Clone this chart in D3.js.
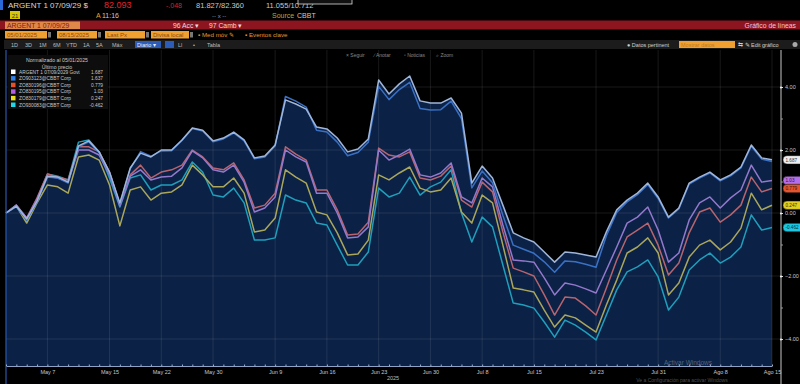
<!DOCTYPE html>
<html><head><meta charset="utf-8">
<script src="https://cdn.jsdelivr.net/npm/d3@7"></script>
<style>
html,body{margin:0;padding:0;background:#000;overflow:hidden;}
svg{display:block;font-family:"Liberation Sans",Arial,sans-serif;}
</style></head><body>
<svg id="c" width="800" height="384"></svg>
<script>
const dates = ["2025-05-01","2025-05-02","2025-05-05","2025-05-06","2025-05-07","2025-05-08","2025-05-09","2025-05-12","2025-05-13","2025-05-14",
"2025-05-15","2025-05-16","2025-05-19","2025-05-20","2025-05-21","2025-05-22","2025-05-23","2025-05-27","2025-05-28","2025-05-29",
"2025-05-30","2025-06-02","2025-06-03","2025-06-04","2025-06-05","2025-06-06","2025-06-09","2025-06-10","2025-06-11","2025-06-12",
"2025-06-13","2025-06-16","2025-06-17","2025-06-18","2025-06-19","2025-06-20","2025-06-23","2025-06-24","2025-06-25","2025-06-26",
"2025-06-27","2025-06-30","2025-07-01","2025-07-02","2025-07-03","2025-07-07","2025-07-08","2025-07-09","2025-07-10","2025-07-11",
"2025-07-14","2025-07-15","2025-07-16","2025-07-17","2025-07-18","2025-07-21","2025-07-22","2025-07-23","2025-07-24","2025-07-25",
"2025-07-28","2025-07-29","2025-07-30","2025-07-31","2025-08-01","2025-08-04","2025-08-05","2025-08-06","2025-08-07","2025-08-08",
"2025-08-11","2025-08-12","2025-08-13","2025-08-14","2025-08-15"];

const tickDates = ["2025-05-07","2025-05-15","2025-05-22","2025-05-30","2025-06-09","2025-06-16","2025-06-23","2025-06-30","2025-07-08","2025-07-15","2025-07-23","2025-07-31","2025-08-08","2025-08-15"];
const tickLabels = ["May 7","May 15","May 22","May 30","Jun 9","Jun 16","Jun 23","Jun 30","Jul 8","Jul 15","Jul 23","Jul 31","Ago 8","Ago 15"];
const yTicks = [-4,-2,0,2,4];
const yMinorTicks = [-3,-1,1,3];

const argentGovt = [0.00,0.22,-0.19,0.38,1.17,1.14,0.98,2.13,2.29,1.94,1.30,0.32,1.43,1.90,1.78,2.00,2.00,2.32,2.70,2.63,2.29,2.38,2.57,2.32,1.75,1.81,2.16,3.59,3.46,3.30,2.73,2.67,2.38,1.94,2.03,2.35,4.22,3.78,4.10,4.35,3.56,3.49,3.49,3.65,3.17,0.95,1.49,1.11,0.25,-0.63,-0.79,-0.92,-1.24,-1.56,-1.24,-1.27,-1.33,-1.40,-0.60,0.10,0.41,0.63,0.95,0.51,-0.13,0.16,0.95,1.14,1.30,1.05,1.21,1.46,2.16,1.75,1.687];
const corpBlue = [0.00,0.20,-0.22,0.35,1.14,1.11,0.95,2.10,2.26,1.91,1.27,0.29,1.40,1.95,1.80,1.97,1.98,2.30,2.68,2.60,2.26,2.35,2.54,2.29,1.72,1.78,2.13,3.70,3.55,3.36,2.63,2.57,2.25,1.82,1.92,2.25,4.02,3.60,3.92,4.15,3.32,3.27,3.28,3.55,3.00,0.80,1.33,0.96,-0.07,-1.02,-1.15,-1.28,-1.55,-1.88,-1.52,-1.55,-1.63,-1.72,-0.72,0.02,0.35,0.58,0.90,0.46,-0.16,0.13,0.92,1.11,1.27,1.02,1.18,1.43,2.12,1.71,1.637];
const corpRed = [0.00,0.25,-0.16,0.48,1.24,1.14,1.05,2.10,2.10,1.94,1.30,0.25,1.21,1.52,1.11,1.30,1.37,1.52,2.00,1.78,1.43,1.37,1.59,1.05,0.16,0.25,0.63,2.10,1.87,1.68,0.73,0.73,0.10,-0.70,-0.67,-0.29,2.06,1.84,1.78,1.94,1.11,1.05,1.17,1.49,0.41,0.19,0.98,0.67,-0.60,-1.75,-1.87,-2.00,-2.60,-3.24,-2.67,-2.70,-2.95,-3.24,-2.38,-1.49,-0.76,-0.54,-0.32,-1.02,-1.97,-1.59,-0.63,0.03,0.16,-0.29,-0.06,0.25,1.14,0.67,0.779];
const corpPurple = [0.00,0.25,-0.16,0.44,1.17,1.11,0.98,2.00,2.00,1.84,1.21,0.22,1.17,1.37,1.05,1.14,1.17,1.43,1.97,1.75,1.37,1.30,1.52,0.98,0.03,0.16,0.51,2.00,1.78,1.62,0.63,0.63,0.00,-0.79,-0.76,-0.44,2.00,1.68,1.84,2.03,1.21,1.14,1.27,1.59,0.51,0.32,1.11,0.83,-0.38,-1.49,-1.52,-1.56,-2.06,-2.60,-2.22,-2.29,-2.41,-2.54,-1.81,-1.08,-0.32,-0.13,0.19,-0.54,-1.56,-1.27,-0.22,0.32,0.51,0.16,0.48,0.73,1.52,0.98,1.03];
const corpYellow = [0.00,0.22,-0.32,0.32,0.89,0.83,0.63,1.78,1.84,1.68,0.89,-0.41,0.73,0.83,0.41,0.63,0.67,0.89,1.52,1.21,0.83,0.83,1.11,0.63,-0.60,-0.54,-0.16,1.37,1.14,0.95,0.03,-0.06,-0.63,-1.33,-1.30,-0.86,1.21,1.05,1.27,1.46,0.79,0.67,0.73,1.11,0.03,-0.32,0.57,0.32,-1.02,-2.38,-2.44,-2.51,-3.08,-3.62,-3.24,-3.33,-3.56,-3.78,-2.92,-2.13,-1.27,-1.08,-0.79,-1.27,-2.60,-2.22,-1.40,-1.02,-0.86,-1.17,-0.92,-0.48,0.63,0.10,0.247];
const corpCyan = [0.00,0.25,-0.22,0.44,1.24,1.17,1.05,2.25,2.32,1.94,1.11,0.19,1.11,1.21,0.73,0.89,0.89,1.05,1.62,1.30,0.57,0.51,0.79,0.32,-0.86,-0.86,-0.79,0.57,0.41,0.32,-0.32,-0.38,-1.02,-1.65,-1.65,-1.24,0.79,0.51,0.63,1.14,0.57,0.83,0.98,1.37,0.00,-0.92,-0.13,-0.44,-1.65,-2.86,-2.92,-3.02,-3.46,-3.94,-3.40,-3.56,-3.78,-4.03,-3.24,-2.44,-1.87,-1.71,-1.49,-2.03,-3.08,-2.67,-1.81,-1.49,-1.27,-1.59,-1.40,-1.08,-0.06,-0.54,-0.462];

const legendNames = ["ARGENT 1 07/09/2029 Govt","ZO903123@CBBT Corp","ZO830196@CBBT Corp","ZO830195@CBBT Corp","ZO830179@CBBT Corp","ZO930083@CBBT Corp"];
const legendValues = ["1.687","1.637","0.779","1.03","0.247","-0.462"];

const svg = d3.select("#c");
function txt(g,x,y,s,fill,size,anchor,weight){
  return g.append("text").attr("x",x).attr("y",y).text(s).attr("fill",fill)
   .attr("font-size",size).attr("text-anchor",anchor||"start").attr("font-weight",weight||"normal");
}
svg.append("rect").attr("width",800).attr("height",384).attr("fill","#000");

// ---------- header ----------
const H = svg.append("g");
H.append("rect").attr("x",0).attr("y",0).attr("width",3).attr("height",10).attr("fill","#2a6ad8");
txt(H,8,8,"ARGENT 1 07/09/29 $","#d8d8d8",8);
txt(H,104,8,"82.093","#e8222a",9);
txt(H,166,8,"-.048","#d8222a",7);
txt(H,196,8,"81.827/82.360","#c8c8c8",7.5);
txt(H,266,8,"11.055/10.712","#c8c8c8",7.5);
H.append("rect").attr("x",298).attr("y",-3).attr("width",54).attr("height",7).attr("fill","#111").attr("stroke","#ddd").attr("stroke-width",0.8);
H.append("rect").attr("x",10).attr("y",11).attr("width",10).attr("height",8).attr("fill","#d6c800");
txt(H,15,17.5,"21","#333",6,"middle");
txt(H,96,17.5,"A","#f0a020",7);
txt(H,102,17.5,"11:16","#c8c8c8",7);
txt(H,212,17.5,"-- x --","#999",6);
txt(H,272,17.5,"Source","#b5a83a",7);
txt(H,297,17.5,"CBBT","#c8c8c8",7);
H.append("rect").attr("x",0).attr("y",20.5).attr("width",800).attr("height",9).attr("fill","#8c1520");
H.append("rect").attr("x",5).attr("y",21.5).attr("width",75).attr("height",7.5).attr("fill","#e0884a");
txt(H,7,27.8,"ARGENT 1 07/09/29","#7a1a10",6.8);
txt(H,173,27.8,"96 Acc \u25BE","#f0d8d8",6.8);
txt(H,209,27.8,"97 Camb \u25BE","#f0d8d8",6.8);
txt(H,796,27.8,"Gráfico de líneas","#f2c8cc",6.8,"end");
const boxes=[[5,42,"05/01/2025"],[57,40,"08/15/2025"],[105,40,"Last Px"],[151,38,"Divisa local"]];
boxes.forEach(b=>{
  H.append("rect").attr("x",b[0]).attr("y",31).attr("width",b[1]).attr("height",7.5).attr("fill","#f0a030");
  txt(H,b[0]+2,37.2,b[2],"#8a4a10",6);
  H.append("rect").attr("x",b[0]+b[1]+1).attr("y",32).attr("width",3).attr("height",5.5).attr("fill","#777");
});
txt(H,198,37.2,"\u25AA Med móv \u270E","#e09a30",6.2);
txt(H,245,37.2,"\u25AA Eventos clave","#e09a30",6.2);
H.append("rect").attr("x",4).attr("y",40).attr("width",796).attr("height",9).attr("fill","#1c1c1c");
["1D","3D","1M","6M","YTD","1A","5A","Máx"].forEach((s,i)=>txt(H,[11,25,39,53,66,83,96,112][i],46.5,s,"#bdbdbd",5.5));
H.append("rect").attr("x",135).attr("y",41).attr("width",26).attr("height",7).attr("fill","#2a5cb8");
txt(H,137,46.6,"Diario \u25BE","#e8eef8",5.5);
H.append("rect").attr("x",165).attr("y",41).attr("width",9).attr("height",7).attr("fill","#2a5cb8");
txt(H,178,46.6,"Ll","#bdbdbd",5.5);
txt(H,193,46.6,"\u2022","#bdbdbd",5.5);
txt(H,207,46.6,"Tabla","#bdbdbd",5.5);
txt(H,627,46.6,"\u25CF Datos pertinent","#d0d0d0",5.5);
H.append("rect").attr("x",679).attr("y",41).attr("width",56).attr("height",7).attr("fill","#f0a030");
txt(H,681,46.6,"Mostrar datos","#c07a20",5.5);
txt(H,738,46.6,"\u21C6  \u270E Edit gráfico","#d0d0d0",5.5);
H.append("circle").attr("cx",795).attr("cy",44.5).attr("r",2.5).attr("fill","#aaa");
txt(H,346,56.5,"\u00D7 Seguir","#888",5);
txt(H,374,56.5,"\u2215 Anotar","#888",5);
txt(H,404,56.5,"\u25AB Noticias","#888",5);
txt(H,436,56.5,"\u2315 Zoom","#888",5);

// ---------- chart ----------
const x = d3.scalePoint().domain(dates).range([6,772]);
const y = d3.scaleLinear().domain([-4,4]).range([339,87]);
const plotTop = 50, plotBottom = 366, axisX = 781;

const rows = dates.map((d,i)=>({d, w:argentGovt[i]}));
svg.append("path").datum(rows)
  .attr("d", d3.area().x(r=>x(r.d)).y0(plotBottom).y1(r=>y(r.w)))
  .attr("fill","#0b2145");

// grid
const grid = svg.append("g").attr("stroke","rgba(255,255,255,0.12)").attr("stroke-width",0.8);
grid.selectAll(".gh").data(yTicks).join("line")
  .attr("x1",6).attr("x2",axisX).attr("y1",d=>y(d)).attr("y2",d=>y(d));
grid.selectAll(".gv").data(tickDates).join("line")
  .attr("x1",d=>x(d)).attr("x2",d=>x(d)).attr("y1",plotTop).attr("y2",plotBottom);

// series lines
const series = [
  {v:corpCyan, c:"#1f9fbc"},
  {v:corpYellow, c:"#aaa75c"},
  {v:corpRed, c:"#b8646e"},
  {v:corpPurple, c:"#9478cc"},
  {v:corpBlue, c:"#3a70c4"},
  {v:argentGovt, c:"#9fb6da"}
];
const line = d3.line().x((v,i)=>x(dates[i])).y(v=>y(v));
series.forEach(s=>{
  svg.append("path").datum(s.v).attr("d",line).attr("fill","none")
    .attr("stroke",s.c).attr("stroke-width",1.5).attr("stroke-linejoin","round");
});

// left border
svg.append("line").attr("x1",6).attr("x2",6).attr("y1",plotTop).attr("y2",384).attr("stroke","#2a58a8").attr("stroke-width",1.2);

// bottom axis
const xAxisG = svg.append("g").attr("transform",`translate(0,${plotBottom})`)
  .call(d3.axisBottom(x).tickValues(tickDates).tickFormat((d,i)=>tickLabels[i]).tickSize(0).tickPadding(4));
xAxisG.select(".domain").attr("stroke","#8da2c4").attr("stroke-width",1);
xAxisG.selectAll("text").attr("fill","#c8c8c8").attr("font-size",5.5).attr("font-family","Liberation Sans, Arial, sans-serif");
const xMinor = svg.append("g").attr("transform",`translate(0,${plotBottom})`)
  .call(d3.axisBottom(x).tickValues(dates).tickFormat("").tickSize(-1.5));
xMinor.select(".domain").remove();
xMinor.selectAll("line").attr("stroke","#9fb2d0");
txt(svg,393,380,"2025","#bbb",5.5,"middle");

// right axis
svg.append("line").attr("x1",axisX).attr("x2",axisX).attr("y1",plotTop).attr("y2",384).attr("stroke","#c8c8c8").attr("stroke-width",1);
const yAxisG = svg.append("g").attr("transform",`translate(${axisX},0)`)
  .call(d3.axisRight(y).tickValues(yTicks).tickFormat(d3.format(".2f")).tickSize(2).tickPadding(2));
yAxisG.select(".domain").remove();
yAxisG.selectAll("line").attr("stroke","#ddd");
yAxisG.selectAll("text").attr("fill","#c8c8c8").attr("font-size",5.5).attr("font-family","Liberation Sans, Arial, sans-serif");
yAxisG.selectAll(".tick").append("circle").attr("r",1.1).attr("fill","#eee");
const yMinorG = svg.append("g").attr("transform",`translate(${axisX},0)`)
  .call(d3.axisRight(y).tickValues(yMinorTicks).tickFormat("").tickSize(2));
yMinorG.select(".domain").remove();
yMinorG.selectAll("line").attr("stroke","#999");

// last value badges
const badges = [
  {v:argentGovt, c:"#eeeeee", t:"#333", s:legendValues[0]},
  {v:corpPurple, c:"#b46ee8", t:"#2a1040", s:legendValues[3]},
  {v:corpRed, c:"#e2552e", t:"#401008", s:legendValues[2]},
  {v:corpYellow, c:"#e2cf22", t:"#3a3000", s:legendValues[4]},
  {v:corpCyan, c:"#1ec6df", t:"#003040", s:legendValues[5]}
];
badges.forEach(b=>{
  const yy = y(b.v[b.v.length-1]);
  svg.append("rect").attr("x",783).attr("y",yy-4.2).attr("width",24).attr("height",8.4).attr("rx",4)
    .attr("fill",b.c).attr("stroke","#111").attr("stroke-width",0.5);
  txt(svg,785.5,yy+1.8,b.s,b.t,4.6);
});

// legend
const L = svg.append("g");
L.append("rect").attr("x",8).attr("y",55).attr("width",100).attr("height",54).attr("fill","#0d0d0d");
txt(L,57,62,"Normalizado al 05/01/2025","#c8c8c8",5.2,"middle");
txt(L,57,68.5,"Último precio","#c8c8c8",5.2,"middle");
const legendColors = ["#ffffff","#2f7fe8","#e8502a","#b060e0","#e8e020","#20d8e8"];
legendNames.forEach((n,i)=>{
  const yy = 73.5 + i*6.6;
  L.append("rect").attr("x",11).attr("y",yy-4).attr("width",4.5).attr("height",4.5).attr("fill",legendColors[i]);
  txt(L,19,yy,n,"#c8c8c8",4.8);
  txt(L,103,yy,legendValues[i],"#c8c8c8",4.8,"end");
});

// watermark
txt(svg,688,365,"Activar Windows","rgba(200,200,200,0.4)",6.5,"middle");
txt(svg,682,381.5,"Ve a Configuración para activar Windows","rgba(200,200,200,0.4)",5,"middle");
</script>
</body></html>
